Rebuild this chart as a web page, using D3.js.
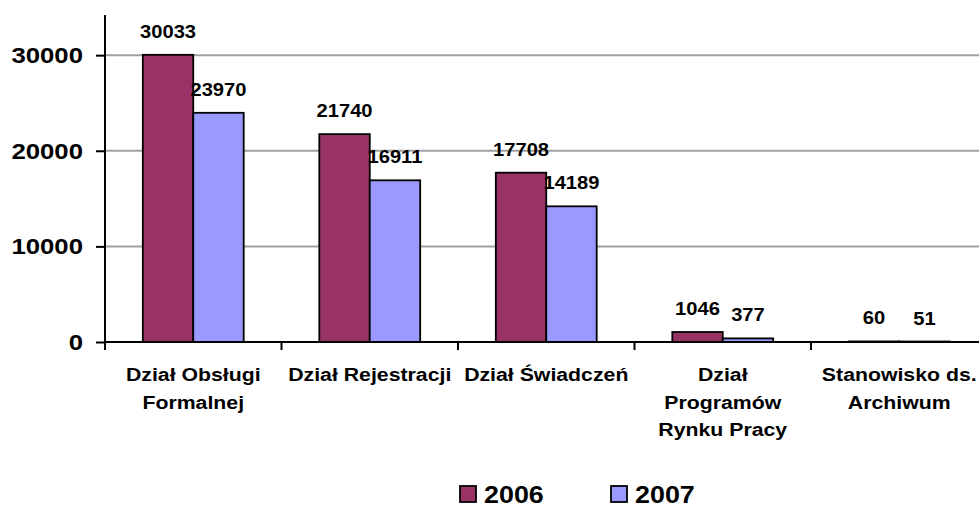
<!DOCTYPE html>
<html lang="pl">
<head>
    <meta charset="UTF-8">
    <title>Wykres</title>
    <script src="https://cdnjs.cloudflare.com/ajax/libs/d3/7.8.5/d3.min.js"></script>
    <style>
        body { margin: 0; background: #fff; }
        text { font-family: "Liberation Sans", Arial, sans-serif; font-weight: bold; fill: #000; }
    </style>
</head>
<body>
    <div id="wrapper"></div>
    <script>
        // dane
        const categories = ['Dział Obsługi Formalnej', 'Dział Rejestracji', 'Dział Świadczeń', 'Dział Programów Rynku Pracy', 'Stanowisko ds. Archiwum']
        const categoryLines = [
            ['Dział Obsługi', 'Formalnej'],
            ['Dział Rejestracji'],
            ['Dział Świadczeń'],
            ['Dział', 'Programów', 'Rynku Pracy'],
            ['Stanowisko ds.', 'Archiwum']
        ]
        const years = ['2006', '2007']
        const values2006 = [30033, 21740, 17708, 1046, 60]
        const values2007 = [23970, 16911, 14189, 377, 51]
        const yTicks = [0, 10000, 20000, 30000]
        const yMax = 34200

        const colors = { '2006': '#993366', '2007': '#9999FF' }

        const width = 979
        const height = 507
        const sx = 1.12 // tekst w oryginale jest lekko rozciągnięty w poziomie

        const svg = d3.select('#wrapper')
            .append('svg')
            .attr('width', width)
            .attr('height', height)

        // skale
        const xScale = d3.scaleBand()
            .domain(categories)
            .range([105, 987.5])

        const xSub = d3.scaleBand()
            .domain(years)
            .range([0, xScale.bandwidth()])
            .paddingOuter(0.75)

        const yScale = d3.scaleLinear()
            .domain([0, yMax])
            .range([342, 15])

        const place = (x, y) => `translate(${x},${y}) scale(${sx},1)`

        // linie siatki
        svg.append('g')
            .selectAll('line')
            .data(yTicks.filter(d => d > 0))
            .join('line')
                .attr('x1', 105)
                .attr('x2', width)
                .attr('y1', d => yScale(d))
                .attr('y2', d => yScale(d))
                .attr('stroke', '#a0a0a0')
                .attr('stroke-width', 2)

        // słupki
        const table = categories.map((c, i) => ({ cat: c, '2006': values2006[i], '2007': values2007[i] }))

        const groups = svg.append('g')
            .selectAll('g')
            .data(table)
            .join('g')
                .attr('transform', d => `translate(${xScale(d.cat)},0)`)

        groups.selectAll('rect')
            .data(d => years.map(y => ({ year: y, value: d[y] })))
            .join('rect')
                .attr('x', d => xSub(d.year))
                .attr('y', d => yScale(d.value))
                .attr('width', xSub.bandwidth())
                .attr('height', d => yScale(0) - yScale(d.value))
                .attr('fill', d => colors[d.year])
                .attr('stroke', '#000')
                .attr('stroke-width', 1.8)

        groups.selectAll('text')
            .data(d => years.map(y => ({ year: y, value: d[y] })))
            .join('text')
                .attr('transform', d => place(xSub(d.year) + xSub.bandwidth() / 2, yScale(d.value) - 17))
                .attr('text-anchor', 'middle')
                .style('font-size', '18px')
                .text(d => d.value)

        // oś Y
        const yAxis = d3.axisLeft(yScale)
            .tickValues(yTicks)
            .tickSize(9)
            .tickFormat('')

        const yAxisG = svg.append('g')
            .attr('transform', 'translate(105,0)')
            .call(yAxis)
            .call(g => g.select('.domain').attr('stroke-width', 2).attr('d', `M0,${yScale(yMax)}V${yScale(0)}`))
            .call(g => g.selectAll('.tick line').attr('stroke-width', 2))

        yAxisG.selectAll('.ylabel')
            .data(yTicks)
            .join('text')
                .attr('class', 'ylabel')
                .attr('transform', d => place(-22, yScale(d) + 8))
                .attr('text-anchor', 'end')
                .style('font-size', '23px')
                .text(d => d)

        // oś X
        const xAxis = svg.append('g')
        xAxis.append('line')
            .attr('x1', 105).attr('x2', width)
            .attr('y1', yScale(0)).attr('y2', yScale(0))
            .attr('stroke', '#000').attr('stroke-width', 2)

        xAxis.selectAll('.xtick')
            .data(categories)
            .join('line')
                .attr('class', 'xtick')
                .attr('x1', d => xScale(d))
                .attr('x2', d => xScale(d))
                .attr('y1', yScale(0))
                .attr('y2', yScale(0) + 8)
                .attr('stroke', '#000')
                .attr('stroke-width', 2)

        xAxis.selectAll('.catlabel')
            .data(categories)
            .join('g')
                .attr('class', 'catlabel')
            .selectAll('text')
            .data((d, i) => categoryLines[i].map(l => ({ l, cat: d })))
            .join('text')
                .attr('transform', (d, j) => place(xScale(d.cat) + xScale.bandwidth() / 2, 381 + j * 27.5))
                .attr('text-anchor', 'middle')
                .style('font-size', '19px')
                .text(d => d.l)

        // legenda
        const legendX = [460, 611]
        const legend = svg.append('g')
            .selectAll('g')
            .data(years)
            .join('g')
                .attr('transform', (d, i) => `translate(${legendX[i]},486)`)

        legend.append('rect')
            .attr('width', 16)
            .attr('height', 16)
            .attr('fill', d => colors[d])
            .attr('stroke', '#000')
            .attr('stroke-width', 1.8)

        legend.append('text')
            .attr('transform', place(24, 17))
            .style('font-size', '24px')
            .text(d => d)
    </script>
</body>
</html>
